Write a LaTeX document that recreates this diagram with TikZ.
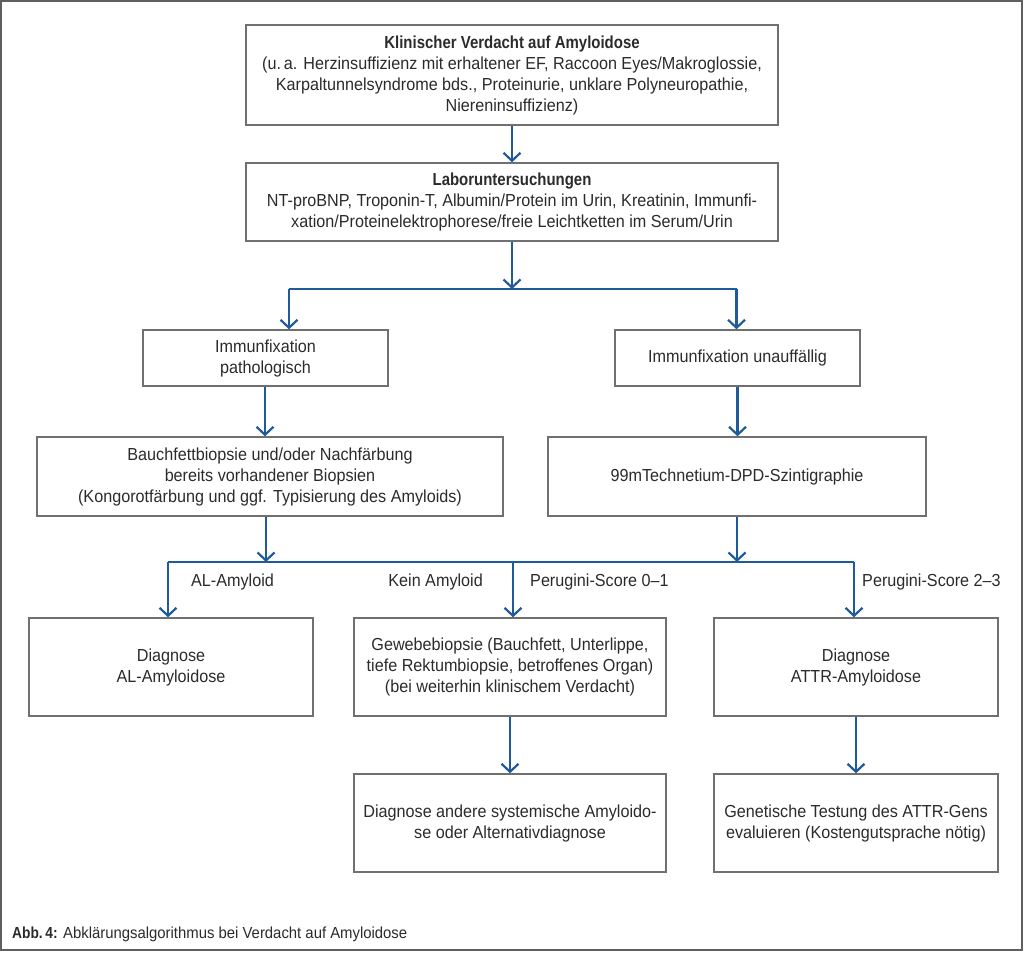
\documentclass[tikz,border=0pt]{standalone}
\usepackage{fontspec}
\setmainfont{Liberation Sans}[FakeStretch=0.93,BoldFeatures={FakeStretch=0.86}]
\usetikzlibrary{arrows.meta,positioning,calc}
\definecolor{arrblue}{HTML}{1F5A9A}
\definecolor{boxgray}{HTML}{707070}
\definecolor{txt}{HTML}{2B2B2B}
\begin{document}
\begin{tikzpicture}[x=1pt,y=-1pt,
  box/.style={draw=boxgray,line width=1.4pt,rectangle,align=center,inner sep=0pt,text=txt,
    font=\fontsize{17.4}{21}\selectfont},
  arr/.style={draw=arrblue,line width=2.2pt,-{Straight Barb[length=8pt,width=17pt,line width=2.2pt]}},
  ln/.style={draw=arrblue,line width=2.2pt},
  lab/.style={text=txt,font=\fontsize{17.4}{21}\selectfont,inner sep=0pt}]
\useasboundingbox (0,0) rectangle (1024,952);
\draw[boxgray!85!black,line width=2pt] (1,1) rectangle (1022,950);

% boxes: centre, width, height
\node[box,minimum width=532pt,minimum height=100pt] (b1) at (512,75)
  {\textbf{Klinischer Verdacht auf Amyloidose}\\(u.\,a. Herzinsuffizienz mit erhaltener EF, Raccoon Eyes/Makroglossie,\\Karpaltunnelsyndrome bds., Proteinurie, unklare Polyneuropathie,\\Niereninsuffizienz)};
\node[box,minimum width=532pt,minimum height=78pt] (b2) at (512,202)
  {\textbf{Laboruntersuchungen}\\NT-proBNP, Troponin-T, Albumin/Protein im Urin, Kreatinin, Immunfi-\\xation/Proteinelektrophorese/freie Leichtketten im Serum/Urin};
\node[box,minimum width=245pt,minimum height=56pt] (ifp) at (265.5,358)
  {Immunfixation\\pathologisch};
\node[box,minimum width=245pt,minimum height=56pt] (ifu) at (737.5,358)
  {Immunfixation unauffällig};
\node[box,minimum width=466pt,minimum height=79pt] (bf) at (270,476.5)
  {Bauchfettbiopsie und/oder Nachfärbung\\bereits vorhandener Biopsien\\(Kongorotfärbung und ggf. Typisierung des Amyloids)};
\node[box,minimum width=378pt,minimum height=79pt] (tc) at (737,476.5)
  {99mTechnetium-DPD-Szintigraphie};
\node[box,minimum width=284pt,minimum height=98pt] (dal) at (171,667)
  {Diagnose\\AL-Amyloidose};
\node[box,minimum width=312pt,minimum height=98pt] (gew) at (510,667)
  {Gewebebiopsie (Bauchfett, Unterlippe,\\tiefe Rektumbiopsie, betroffenes Organ)\\(bei weiterhin klinischem Verdacht)};
\node[box,minimum width=284pt,minimum height=98pt] (attr) at (856,667)
  {Diagnose\\ATTR-Amyloidose};
\node[box,minimum width=312pt,minimum height=98pt] (and) at (510,823)
  {Diagnose andere systemische Amyloido-\\se oder Alternativdiagnose};
\node[box,minimum width=284pt,minimum height=98pt] (gen) at (856,823)
  {Genetische Testung des ATTR-Gens\\evaluieren (Kostengutsprache nötig)};

% junction coordinates
\coordinate (j1) at (512,289);
\coordinate (j1L) at (289,289);
\coordinate (j1R) at (736.5,289);
\coordinate (j2L) at (168,562);
\coordinate (j2M) at (513,562);
\coordinate (j2R) at (854,562);

% connectors
\draw[arr] (b1.south) -- (b2.north);
\draw[ln] (j1L) -- (j1R);
\draw[arr] (b2.south) -- (j1);
\draw[arr] (j1L) -- (j1L |- ifp.north);
\draw[arr] (j1R) -- (j1R |- ifu.north);
\draw[arr] (ifp.south -| 265,0) -- (bf.north -| 265,0);
\draw[arr] (ifu.south) -- (tc.north -| ifu.south);
\draw[ln] (j2L) -- (j2R);
\draw[arr] (bf.south -| 266,0) -- (266,562);
\draw[arr] (tc.south) -- (tc.south |- j2R);
\draw[arr] (j2L) -- (j2L |- dal.north);
\draw[arr] (j2M) -- (j2M |- gew.north);
\draw[arr] (j2R) -- (j2R |- attr.north);
\draw[arr] (gew.south) -- (and.north);
\draw[arr] (attr.south) -- (gen.north);

% labels
\node[lab,anchor=west] (l1) at (191,582) {AL-Amyloid};
\node[lab,anchor=east] (l2) at (483,582) {Kein Amyloid};
\node[lab,anchor=west] (l3) at (530,582) {Perugini-Score 0–1};
\node[lab,anchor=west] (l4) at (862,582) {Perugini-Score 2–3};

% caption
\node[anchor=west,inner sep=0pt,text=txt,font=\fontsize{16}{19}\selectfont] (cap) at (12,934)
  {\textbf{Abb.\,4:} Abklärungsalgorithmus bei Verdacht auf Amyloidose};
\end{tikzpicture}
\end{document}
